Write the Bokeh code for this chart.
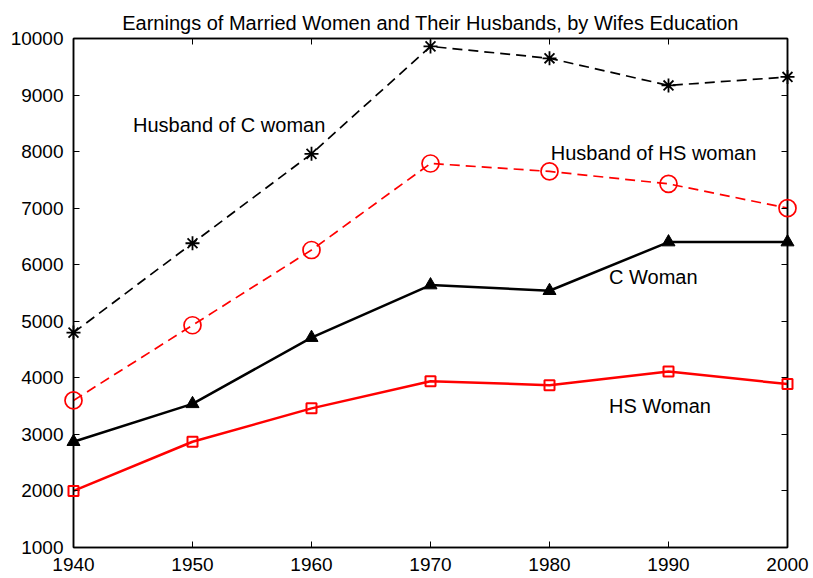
from bokeh.plotting import figure
from bokeh.models import Range1d, LinearAxis, FixedTicker, Label
from bokeh.embed import file_html
from bokeh.resources import INLINE

years = [1940, 1950, 1960, 1970, 1980, 1990, 2000]
husband_c = [4800, 6380, 7960, 9860, 9650, 9170, 9320]
husband_hs = [3600, 4930, 6260, 7790, 7650, 7430, 7000]
c_woman = [2870, 3540, 4710, 5640, 5540, 6400, 6400]
hs_woman = [2000, 2870, 3460, 3940, 3870, 4110, 3890]

y_ticks = [1000, 2000, 3000, 4000, 5000, 6000, 7000, 8000, 9000, 10000]
x_ticks = years

labels = ["Husband of C woman", "Husband of HS woman", "C Woman", "HS Woman"]
label_x = [1945.0, 1980.1, 1985.0, 1985.0]
label_y = [8470, 7980, 5780, 3500]

FONT = "Liberation Sans"

p = figure(frame_width=714, frame_height=509, output_backend="svg", toolbar_location=None,
           x_range=Range1d(1940, 2000), y_range=Range1d(1000, 10000),
           min_border_left=73, min_border_right=26, min_border_top=38, min_border_bottom=30,
           title="Earnings of Married Women and Their Husbands, by Wifes Education")
p.title.align = "center"
p.title.text_font = FONT
p.title.text_font_size = "20px"
p.title.text_font_style = "normal"
p.title.text_color = "black"
p.title.standoff = 10
p.title.offset = 0
p.xgrid.visible = False
p.ygrid.visible = False
p.outline_line_color = "black"
p.outline_line_width = 1.5
p.background_fill_color = "white"
p.border_fill_color = "white"

def style_axis(ax, ticks, show_labels):
    ax.ticker = FixedTicker(ticks=ticks)
    ax.minor_tick_line_color = None
    ax.major_tick_in = 6
    ax.major_tick_out = 0
    ax.axis_line_color = "black"
    ax.axis_line_width = 1.5
    ax.major_tick_line_width = 1
    ax.major_label_text_font = FONT
    if show_labels:
        ax.major_label_text_font_size = "19px"
        ax.major_label_standoff = 10
        ax.major_label_text_color = "black"
    else:
        ax.major_label_text_font_size = "1px"
        ax.major_label_standoff = 0
        ax.major_label_text_color = None

style_axis(p.xaxis[0], x_ticks, True)
p.xaxis[0].major_label_standoff = 10
style_axis(p.yaxis[0], y_ticks, True)
top = LinearAxis()
right = LinearAxis()
style_axis(top, x_ticks, False)
style_axis(right, y_ticks, False)
p.add_layout(top, "above")
p.add_layout(right, "right")

# Husband of C woman
p.line(years, husband_c, line_color="black", line_width=1.7, line_dash="10 6")
p.scatter(years, husband_c, marker="asterisk", size=14, line_color="black", line_width=1.8, level="overlay")
# Husband of HS woman
p.line(years, husband_hs, line_color="red", line_width=1.7, line_dash="10 6")
p.scatter(years, husband_hs, marker="circle", size=17, line_color="red", fill_color=None, line_width=1.7, level="overlay")
# C woman
p.line(years, c_woman, line_color="black", line_width=2.5)
p.scatter(years, c_woman, marker="triangle", size=13, line_color="black", fill_color="black", line_width=1, level="overlay")
# HS woman
p.line(years, hs_woman, line_color="red", line_width=2.5)
p.scatter(years, hs_woman, marker="square", size=10, line_color="red", fill_color=None, line_width=2, level="overlay")

for t, lx, ly in zip(labels, label_x, label_y):
    p.add_layout(Label(x=lx, y=ly, text=t, text_font=FONT, text_font_size="20px",
                       text_baseline="middle", text_align="left", text_color="black"))

open("out.html", "w").write(file_html(p, INLINE))
